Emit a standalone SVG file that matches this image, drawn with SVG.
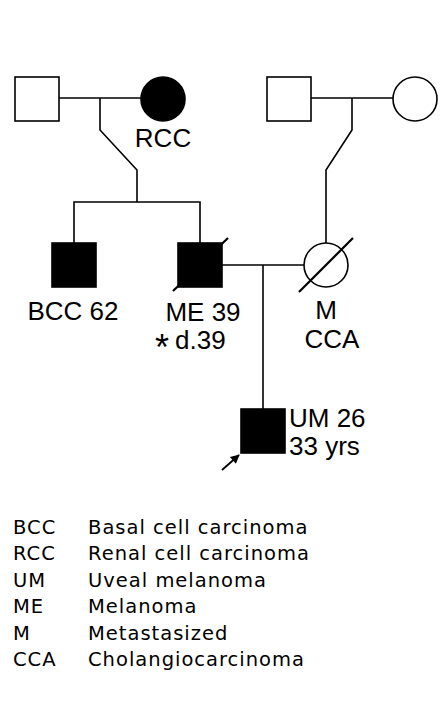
<svg xmlns="http://www.w3.org/2000/svg" width="448" height="720" viewBox="0 0 448 720">
<style>
.ln{fill:none;stroke:#000;stroke-width:1.6}
.op{fill:#fff;stroke:#000;stroke-width:1.6}
.af{fill:#000;stroke:#000;stroke-width:1.6}
.sl{stroke:#000;stroke-width:2.2}
.t{font-family:"Liberation Sans",Arial,sans-serif;font-size:26px;fill:#000}
.lg{font-family:"DejaVu Sans",sans-serif;font-size:19.5px;letter-spacing:1px;fill:#000}
</style>
<defs>
<marker id="ah" viewBox="0 0 10 10" refX="9" refY="5" markerWidth="6" markerHeight="5" orient="auto"><path d="M0,0L10,5L0,10z" fill="#000"/></marker>
</defs>
<rect width="448" height="720" fill="#fff"/>
<g id="connectors">
<path class="ln" d="M59,98H141"/>
<path class="ln" d="M100,98V130L137,170V202"/>
<path class="ln" d="M74,243V202H200V243"/>
<path class="ln" d="M311,98H393"/>
<path class="ln" d="M352,98V130L326,170V243"/>
<path class="ln" d="M222,265H304"/>
<path class="ln" d="M263,265V409"/>
<path class="ln" style="stroke-width:1.8" d="M222,470L239,455" marker-end="url(#ah)"/>
</g>
<g id="gf1"><rect class="op" x="15" y="77" width="44" height="44"/></g>
<g id="gm1"><circle class="af" cx="163" cy="99" r="22"/><text class="t" x="163" y="147" text-anchor="middle">RCC</text></g>
<g id="gf2"><rect class="op" x="267" y="77" width="44" height="44"/></g>
<g id="gm2"><circle class="op" cx="415" cy="99" r="22"/></g>
<g id="bcc"><rect class="af" x="52" y="243" width="44" height="44"/><text class="t" x="73" y="320" text-anchor="middle">BCC 62</text></g>
<g id="me"><rect class="af" x="178" y="243" width="44" height="44"/><line class="sl" x1="173" y1="291" x2="228" y2="238"/><text class="t" x="203" y="321" text-anchor="middle">ME 39</text><text class="t" x="155" y="349"><tspan dy="11" style="font-size:36px">*</tspan><tspan x="175" dy="-11">d.39</tspan></text></g>
<g id="mother"><circle class="op" cx="326" cy="265" r="22"/><line class="sl" x1="299" y1="292" x2="353" y2="238"/><text class="t" x="326" y="319" text-anchor="middle">M</text><text class="t" x="332" y="348" text-anchor="middle">CCA</text></g>
<g id="proband"><rect class="af" x="241" y="409" width="44" height="44"/><text class="t" x="289" y="427">UM 26</text><text class="t" x="289" y="455">33 yrs</text></g>
<g id="legend">
<text class="lg" x="13" y="534">BCC</text><text class="lg" x="88" y="534">Basal cell carcinoma</text>
<text class="lg" x="13" y="560">RCC</text><text class="lg" x="88" y="560">Renal cell carcinoma</text>
<text class="lg" x="13" y="587">UM</text><text class="lg" x="88" y="587">Uveal melanoma</text>
<text class="lg" x="13" y="613">ME</text><text class="lg" x="88" y="613">Melanoma</text>
<text class="lg" x="13" y="640">M</text><text class="lg" x="88" y="640">Metastasized</text>
<text class="lg" x="13" y="666">CCA</text><text class="lg" x="88" y="666">Cholangiocarcinoma</text>
</g>
</svg>
